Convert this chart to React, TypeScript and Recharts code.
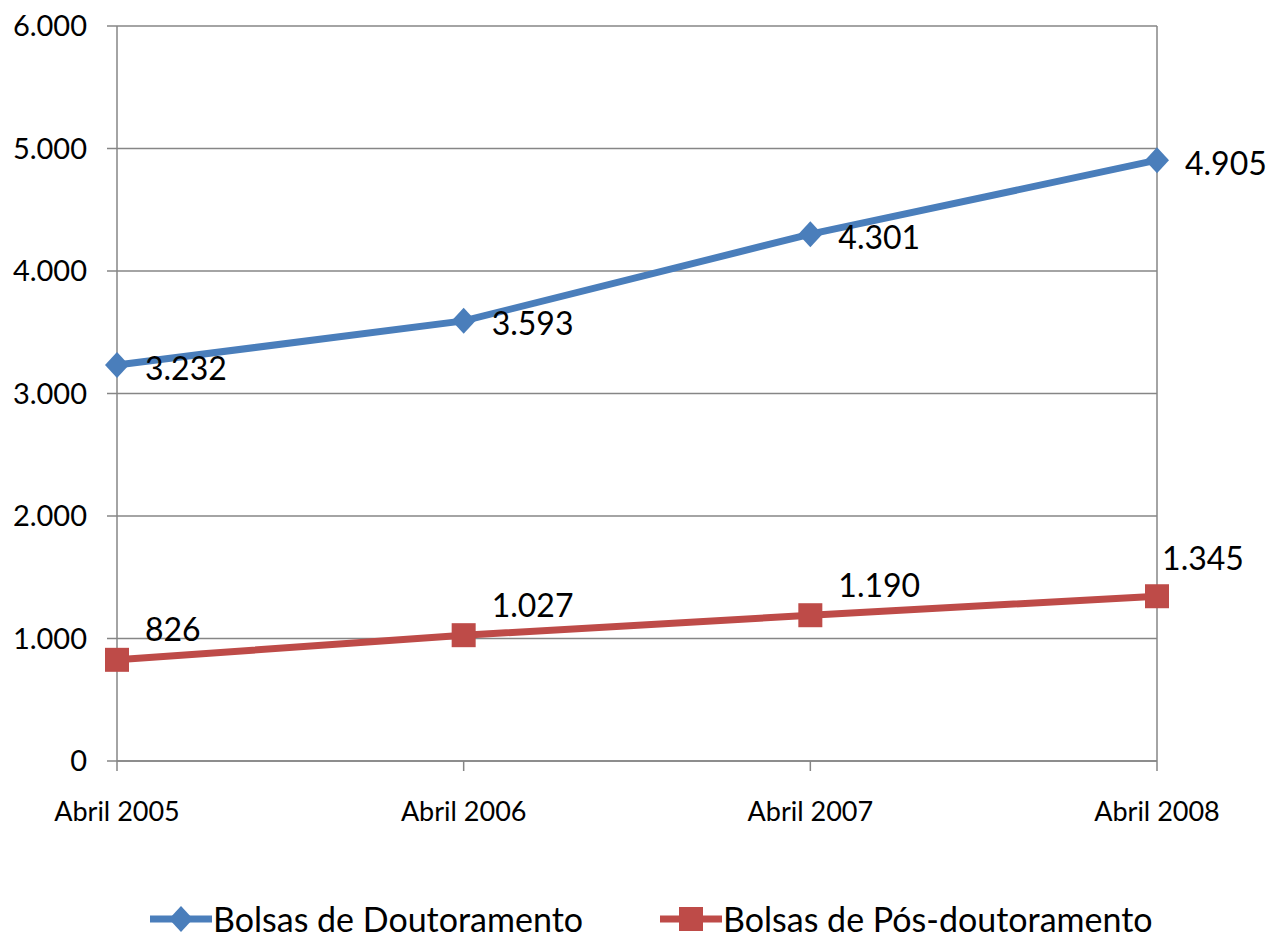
import React from "react";
import {
  LineChart,
  Line,
  XAxis,
  YAxis,
  CartesianGrid,
  ReferenceLine,
} from "recharts";

const categories = ["Abril 2005", "Abril 2006", "Abril 2007", "Abril 2008"];
const doutoramento = [3232, 3593, 4301, 4905];
const posDoutoramento = [826, 1027, 1190, 1345];
const yTicks = [0, 1000, 2000, 3000, 4000, 5000, 6000];

const BLUE = "#4A7EBB";
const RED = "#BE4B48";
const GRID = "#868686";
const FONT = "Lato, 'Open Sans', sans-serif";

const data = categories.map((name, i) => ({
  name,
  dout: doutoramento[i],
  pos: posDoutoramento[i],
}));

const fmt = (v: number) =>
  v.toString().replace(/\B(?=(\d{3})+(?!\d))/g, ".");

const Diamond = (props: any) => {
  const { cx, cy } = props;
  if (cx == null || cy == null) return null;
  const w = 12;
  const h = 13;
  return (
    <polygon
      points={`${cx},${cy - h} ${cx + w},${cy} ${cx},${cy + h} ${cx - w},${cy}`}
      fill={BLUE}
    />
  );
};

const Square = (props: any) => {
  const { cx, cy } = props;
  if (cx == null || cy == null) return null;
  return <rect x={cx - 12} y={cy - 12} width={24} height={24} fill={RED} />;
};

const BlueLabel = (props: any) => {
  const { x, y, value } = props;
  return (
    <text
      x={x + 28}
      y={y + 2}
      dominantBaseline="central"
      fontSize={32}
      fontFamily={FONT}
      fill="#000"
    >
      {fmt(value)}
    </text>
  );
};

const RedLabel = (props: any) => {
  const { x, y, value, index } = props;
  const last = index === categories.length - 1;
  return (
    <text
      x={last ? x + 46 : x + 28}
      y={last ? y - 39 : y - 31}
      dominantBaseline="central"
      textAnchor={last ? "middle" : "start"}
      fontSize={32}
      fontFamily={FONT}
      fill="#000"
    >
      {fmt(value)}
    </text>
  );
};

const legendItems = [
  { name: "Bolsas de Doutoramento", color: BLUE, shape: "diamond" },
  { name: "Bolsas de Pós-doutoramento", color: RED, shape: "square" },
];

export default function App() {
  return (
    <div
      style={{
        position: "absolute",
        left: 0,
        top: 0,
        width: 1272,
        height: 939,
        background: "#fff",
      }}
    >
      <LineChart
        width={1272}
        height={939}
        data={data}
        margin={{ top: 26, right: 115, bottom: 68, left: 0 }}
      >
        <CartesianGrid vertical={false} stroke={GRID} strokeWidth={1.5} />
        <ReferenceLine x="Abril 2008" stroke={GRID} strokeWidth={1.5} />
        <XAxis
          dataKey="name"
          height={110}
          stroke={GRID}
          strokeWidth={1.5}
          tickSize={10}
          tickMargin={31}
          tick={{ fill: "#000", fontSize: 27, fontFamily: FONT }}
          interval={0}
        />
        <YAxis
          width={117}
          domain={[0, 6000]}
          ticks={yTicks}
          stroke={GRID}
          strokeWidth={1.5}
          tickSize={10}
          tickMargin={20}
          tickFormatter={fmt}
          tick={{ fill: "#000", fontSize: 29, fontFamily: FONT }}
        />
        <Line
          dataKey="dout"
          stroke={BLUE}
          strokeWidth={7}
          dot={<Diamond />}
          activeDot={false}
          label={<BlueLabel />}
          isAnimationActive={false}
        />
        <Line
          dataKey="pos"
          stroke={RED}
          strokeWidth={7}
          dot={<Square />}
          activeDot={false}
          label={<RedLabel />}
          isAnimationActive={false}
        />
      </LineChart>
      <div
        style={{
          position: "absolute",
          top: 898,
          left: 150,
          display: "flex",
          alignItems: "center",
          fontFamily: FONT,
          fontSize: 34,
          color: "#000",
        }}
      >
        {legendItems.map((it, i) => (
          <div
            key={it.name}
            style={{
              display: "flex",
              alignItems: "center",
              marginRight: i === 0 ? 77 : 0,
            }}
          >
            <svg width={62} height={30} style={{ marginRight: 1 }}>
              <line x1={0} y1={15} x2={62} y2={15} stroke={it.color} strokeWidth={7} />
              {it.shape === "diamond" ? (
                <polygon points="31,2 43,15 31,28 19,15" fill={it.color} />
              ) : (
                <rect x={19} y={3} width={24} height={24} fill={it.color} />
              )}
            </svg>
            <span>{it.name}</span>
          </div>
        ))}
      </div>
    </div>
  );
}
